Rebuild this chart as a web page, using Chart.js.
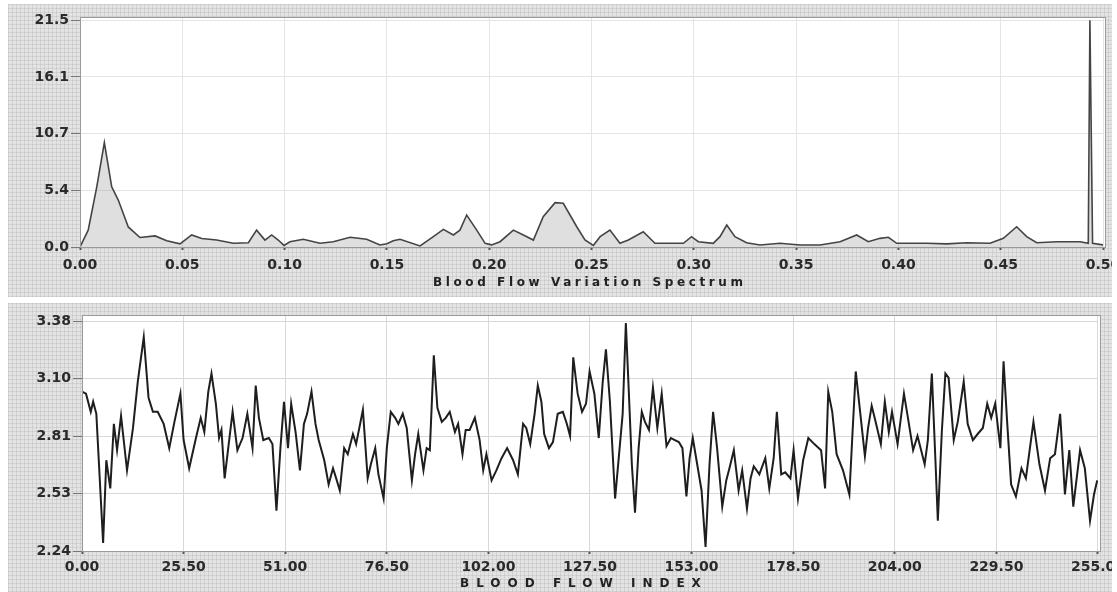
<!DOCTYPE html>
<html>
<head>
    <title>Blood Flow</title>
    <style>
        body { margin: 0; background: #fff; width: 1117px; height: 592px; overflow: hidden; position: relative; font-family: "DejaVu Sans", sans-serif; }
        .panel {
            position: absolute; left: 8px; width: 1104px; overflow: hidden;
            background-color: #e3e3e3;
            background-image:
                repeating-linear-gradient(0deg, rgba(0,0,0,0.07) 0 1px, transparent 1px 4px),
                repeating-linear-gradient(90deg, rgba(0,0,0,0.07) 0 1px, transparent 1px 4px);
        }
        #topPanel { top: 4px; height: 293px; }
        #bottomPanel { top: 303px; height: 289px; }
        .panel canvas { position: absolute; left: -8px; }
        #specChart { top: -4px; }
        #flowChart { top: -3px; }
        .axisTitle { position: absolute; font-weight: bold; color: #222; white-space: pre; }
        #specTitle { top: 275px; left: 433px; font-size: 12px; letter-spacing: 3.6px; }
        #flowTitle { top: 576px; left: 460px; font-size: 12px; letter-spacing: 7px; }
    </style>
    <script src="https://cdn.jsdelivr.net/npm/chart.js"></script>
</head>
<body>
    <div class="panel" id="topPanel"><canvas id="specChart" width="1130" height="300"></canvas></div>
    <div class="panel" id="bottomPanel"><canvas id="flowChart" width="1130" height="292"></canvas></div>
    <div class="axisTitle" id="specTitle">Blood Flow Variation Spectrum</div>
    <div class="axisTitle" id="flowTitle">BLOOD FLOW INDEX</div>

    <script>
        // spectrum
        const specFreq = [0, 0.004, 0.0082, 0.0119, 0.0155, 0.0187, 0.0236, 0.0293, 0.0367, 0.0424,
            0.0489, 0.0546, 0.0595, 0.0668, 0.0749, 0.0823, 0.0863, 0.0904, 0.0937, 0.0969,
            0.0997, 0.1026, 0.1091, 0.1173, 0.1238, 0.132, 0.1401, 0.1466, 0.15, 0.1531,
            0.1564, 0.1662, 0.1727, 0.1776, 0.1825, 0.1857, 0.189, 0.1939, 0.198, 0.2012,
            0.2053, 0.2118, 0.2167, 0.2216, 0.2264, 0.2322, 0.2362, 0.2428, 0.2468, 0.2509,
            0.2542, 0.259, 0.2639, 0.268, 0.2753, 0.281, 0.2884, 0.2949, 0.2989, 0.3022,
            0.3095, 0.3128, 0.3161, 0.3201, 0.3258, 0.3324, 0.3421, 0.3519, 0.3617, 0.3715,
            0.3796, 0.3853, 0.391, 0.3951, 0.3992, 0.404, 0.4138, 0.4236, 0.4334, 0.4448,
            0.4513, 0.4578, 0.4627, 0.4676, 0.4774, 0.4888, 0.4928, 0.4936, 0.4949, 0.5];
        const specPower = [0, 1.6, 5.7, 9.9, 5.7, 4.45, 1.9, 0.9, 1.05, 0.6,
            0.3, 1.14, 0.8, 0.66, 0.35, 0.4, 1.6, 0.66, 1.14, 0.66,
            0.15, 0.5, 0.73, 0.35, 0.5, 0.92, 0.73, 0.19, 0.3, 0.6,
            0.73, 0.1, 0.98, 1.67, 1.14, 1.6, 3.03, 1.6, 0.35, 0.2,
            0.5, 1.6, 1.14, 0.66, 2.87, 4.2, 4.14, 1.92, 0.66, 0.15,
            0.98, 1.6, 0.35, 0.66, 1.45, 0.35, 0.35, 0.35, 0.98, 0.5,
            0.35, 0.98, 2.08, 0.98, 0.4, 0.19, 0.35, 0.19, 0.19, 0.5,
            1.14, 0.5, 0.82, 0.92, 0.35, 0.35, 0.35, 0.3, 0.4, 0.35,
            0.82, 1.92, 0.98, 0.4, 0.5, 0.5, 0.35, 21.5, 0.35, 0.2];
        const specXTicks = [0, 0.05, 0.1, 0.15, 0.2, 0.25, 0.3, 0.35, 0.4, 0.45, 0.5];
        const specYTicks = [0, 5.375, 10.75, 16.125, 21.5];
        const specYLabels = ['0.0', '5.4', '10.7', '16.1', '21.5'];

        // blood flow index series
        const flowIdx = [0, 1, 2.2, 2.8, 3.6, 5.3, 6.1, 7.1, 8, 8.8, 9.8, 11.3, 12.8, 14, 15.5, 16.7, 17.8, 19, 20.5, 21.9,
            23.2, 24.7, 25.5, 26.9, 28.6, 29.8, 30.7, 31.7, 32.5, 33.6, 34.4, 35, 35.8, 36.7, 37.8, 39, 40.3, 41.5,
            42.8, 43.6, 44.4, 45.5, 46.9, 47.8, 48.8, 49.8, 50.7, 51.7, 52.5, 53.6, 54.7, 55.7, 56.5, 57.6, 58.6, 59.4,
            60.8, 61.9, 63, 63.8, 64.7, 65.8, 66.7, 68, 68.8, 70.5, 71.7, 72.5, 73.6, 74.4, 75.7, 76.5, 77.5, 78.6,
            79.4, 80.5, 81.5, 82.8, 83.6, 84.4, 85.7, 86.5, 87.3, 88.3, 89.2, 90.3, 91.3, 92.3, 93.6, 94.4, 95.5,
            96.3, 97.3, 98.6, 99.8, 100.7, 101.5, 102.8, 104, 105.3, 106.7, 108.2, 109.4, 110.7, 111.5, 112.5, 113.6,
            114.4, 115.3, 116, 117.2, 118.2, 119.4, 120.7, 121.7, 122.5, 123.3, 124.4, 125.5, 126.5, 127.4, 128.6,
            129.7, 130.7, 131.5, 132.5, 133.8, 134.8, 135.7, 136.5, 137.2, 138, 138.8, 139.7, 140.5, 141.3, 142.3,
            143.3, 144.4, 145.5, 146.7, 147.8, 148.8, 149.8, 150.7, 151.7, 152.5, 153.3, 154.4, 155.5, 156.5, 157.5,
            158.4, 159.4, 160.7, 161.7, 162.5, 163.6, 164.8, 165.7, 166.9, 167.8, 168.6, 170, 171.5, 172.5, 173.6,
            174.4, 175.5, 176.5, 177.8, 178.6, 179.7, 181, 182.3, 183.8, 185.5, 186.5, 187.3, 188.3, 189.4, 191,
            192.6, 193.4, 194.2, 195.3, 196.5, 197.3, 198.2, 199.2, 200.5, 201.5, 202.5, 203.3, 204.7, 206.3, 207.3,
            208.6, 209.7, 211.5, 212.3, 213.3, 214.2, 214.8, 215.8, 216.7, 217.5, 218.8, 219.8, 221.3, 222.3, 223.6,
            224.8, 226.1, 227.2, 228.2, 229.2, 230.5, 231.3, 232.2, 233.2, 234.4, 235.8, 236.9, 238.8, 240.3, 241.7,
            243, 244.2, 245.5, 246.7, 247.8, 248.8, 250.5, 251.7, 253, 254, 254.8];
        const flowVal = [3.03, 3.02, 2.93, 2.98, 2.92, 2.28, 2.69, 2.55, 2.87, 2.74, 2.91, 2.64, 2.85, 3.08, 3.30, 3.00, 2.93, 2.93, 2.87, 2.75,
            2.88, 3.02, 2.79, 2.65, 2.80, 2.90, 2.83, 3.03, 3.12, 2.97, 2.80, 2.84, 2.60, 2.75, 2.93, 2.74, 2.80, 2.92,
            2.75, 3.06, 2.90, 2.79, 2.80, 2.77, 2.44, 2.75, 2.98, 2.75, 2.97, 2.83, 2.64, 2.87, 2.92, 3.03, 2.87, 2.79,
            2.69, 2.57, 2.65, 2.60, 2.54, 2.75, 2.72, 2.82, 2.77, 2.94, 2.60, 2.67, 2.75, 2.62, 2.50, 2.75, 2.93, 2.90,
            2.87, 2.92, 2.85, 2.59, 2.72, 2.82, 2.64, 2.75, 2.74, 3.21, 2.95, 2.88, 2.90, 2.93, 2.83, 2.87, 2.72,
            2.84, 2.84, 2.90, 2.79, 2.64, 2.72, 2.59, 2.64, 2.70, 2.75, 2.69, 2.62, 2.87, 2.85, 2.77, 2.92,
            3.06, 2.98, 2.82, 2.75, 2.78, 2.92, 2.93, 2.87, 2.81, 3.20, 3.02, 2.93, 2.97, 3.13, 3.02,
            2.80, 3.08, 3.24, 2.98, 2.50, 2.72, 2.92, 3.37, 3.05, 2.67, 2.43, 2.75, 2.93, 2.88, 2.84,
            3.05, 2.85, 3.02, 2.76, 2.80, 2.79, 2.78, 2.75, 2.51, 2.70, 2.80, 2.67, 2.54, 2.26, 2.67,
            2.93, 2.75, 2.46, 2.59, 2.65, 2.74, 2.54, 2.64, 2.45, 2.60, 2.66, 2.62, 2.70, 2.55, 2.70,
            2.93, 2.62, 2.63, 2.60, 2.74, 2.50, 2.69, 2.80, 2.77, 2.74, 2.55, 3.03, 2.93, 2.72, 2.64,
            2.52, 2.83, 3.13, 2.93, 2.71, 2.85, 2.96, 2.88, 2.77, 2.98, 2.83, 2.93, 2.77, 3.02, 2.90,
            2.74, 2.81, 2.67, 2.79, 3.12, 2.69, 2.39, 2.83, 3.12, 3.10, 2.79, 2.88, 3.08, 2.87, 2.79,
            2.82, 2.85, 2.97, 2.90, 2.97, 2.75, 3.18, 2.88, 2.57, 2.51, 2.65, 2.60, 2.88, 2.67, 2.54,
            2.70, 2.72, 2.92, 2.52, 2.74, 2.46, 2.74, 2.65, 2.39, 2.52, 2.59];
        const flowXTicks = [0, 25.5, 51, 76.5, 102, 127.5, 153, 178.5, 204, 229.5, 255];
        const flowYTicks = [2.24, 2.525, 2.81, 3.095, 3.38];
        const flowYLabels = ['2.24', '2.53', '2.81', '3.10', '3.38'];

        const tickFont = { family: 'DejaVu Sans', size: 14, weight: 'bold' };

        // white plot area with a thin frame
        const plotFrame = {
            id: 'plotFrame',
            beforeDraw(chart, args, opts) {
                const a = chart.chartArea, ctx = chart.ctx;
                ctx.save();
                ctx.fillStyle = '#fff';
                ctx.fillRect(a.left, a.top, a.right - a.left + opts.extraRight, a.bottom - a.top);
                ctx.restore();
            },
            afterDraw(chart, args, opts) {
                const a = chart.chartArea, ctx = chart.ctx;
                ctx.save();
                ctx.strokeStyle = '#9a9a9a';
                ctx.lineWidth = 1;
                ctx.strokeRect(a.left + 0.5, a.top + 0.5, a.right - a.left + opts.extraRight - 1, a.bottom - a.top);
                ctx.restore();
            }
        };

        function makeOptions(cfg) {
            return {
                responsive: false,
                animation: false,
                layout: { padding: { top: cfg.padTop, right: cfg.padRight, left: 0, bottom: 0 } },
                plugins: {
                    legend: { display: false },
                    tooltip: { enabled: false },
                    plotFrame: { extraRight: 3 }
                },
                scales: {
                    x: {
                        type: 'linear', min: cfg.xMin, max: cfg.xMax,
                        afterBuildTicks: s => { s.ticks = cfg.xTicks.map(v => ({ value: v })); },
                        afterFit: s => { s.height = cfg.xHeight; },
                        ticks: { font: tickFont, color: '#2a2a2a', padding: cfg.xPad, maxRotation: 0, autoSkip: false,
                                 callback: v => v.toFixed(2) },
                        grid: { color: cfg.gridColor, tickColor: '#555', tickLength: 3, tickWidth: 2 },
                        border: { display: false }
                    },
                    y: {
                        min: cfg.yMin, max: cfg.yMax,
                        afterBuildTicks: s => { s.ticks = cfg.yTicks.map(v => ({ value: v })); },
                        afterFit: s => { s.width = cfg.yWidth; },
                        ticks: { font: tickFont, color: '#2a2a2a', padding: 2,
                                 callback: (v, i) => cfg.yLabels[i] },
                        grid: { color: cfg.gridColor, tickColor: '#777', tickLength: 9 },
                        border: { display: false }
                    }
                }
            };
        }

        new Chart(document.getElementById('specChart'), {
            type: 'line',
            data: {
                datasets: [{
                    data: specFreq.map((f, i) => ({ x: f, y: specPower[i] })),
                    borderColor: '#444',
                    borderWidth: 1.6,
                    backgroundColor: 'rgba(110,110,110,0.22)',
                    fill: 'origin',
                    pointRadius: 0,
                    tension: 0
                }]
            },
            options: makeOptions({
                padTop: 17, padRight: 27, xMin: 0, xMax: 0.5, yMin: 0, yMax: 21.8,
                xTicks: specXTicks, yTicks: specYTicks, yLabels: specYLabels,
                xHeight: 53, yWidth: 80, xPad: 7, gridColor: '#e4e4e4'
            }),
            plugins: [plotFrame]
        });

        new Chart(document.getElementById('flowChart'), {
            type: 'line',
            data: {
                datasets: [{
                    data: flowIdx.map((x, i) => ({ x: x, y: flowVal[i] })),
                    borderColor: '#1e1e1e',
                    borderWidth: 2,
                    pointRadius: 0,
                    fill: false,
                    tension: 0
                }]
            },
            options: makeOptions({
                padTop: 15, padRight: 29, xMin: 0, xMax: 255, yMin: 2.24, yMax: 3.41,
                xTicks: flowXTicks, yTicks: flowYTicks, yLabels: flowYLabels,
                xHeight: 41, yWidth: 82, xPad: 5, gridColor: '#d8d8d8'
            }),
            plugins: [plotFrame]
        });
    </script>
</body>
</html>
